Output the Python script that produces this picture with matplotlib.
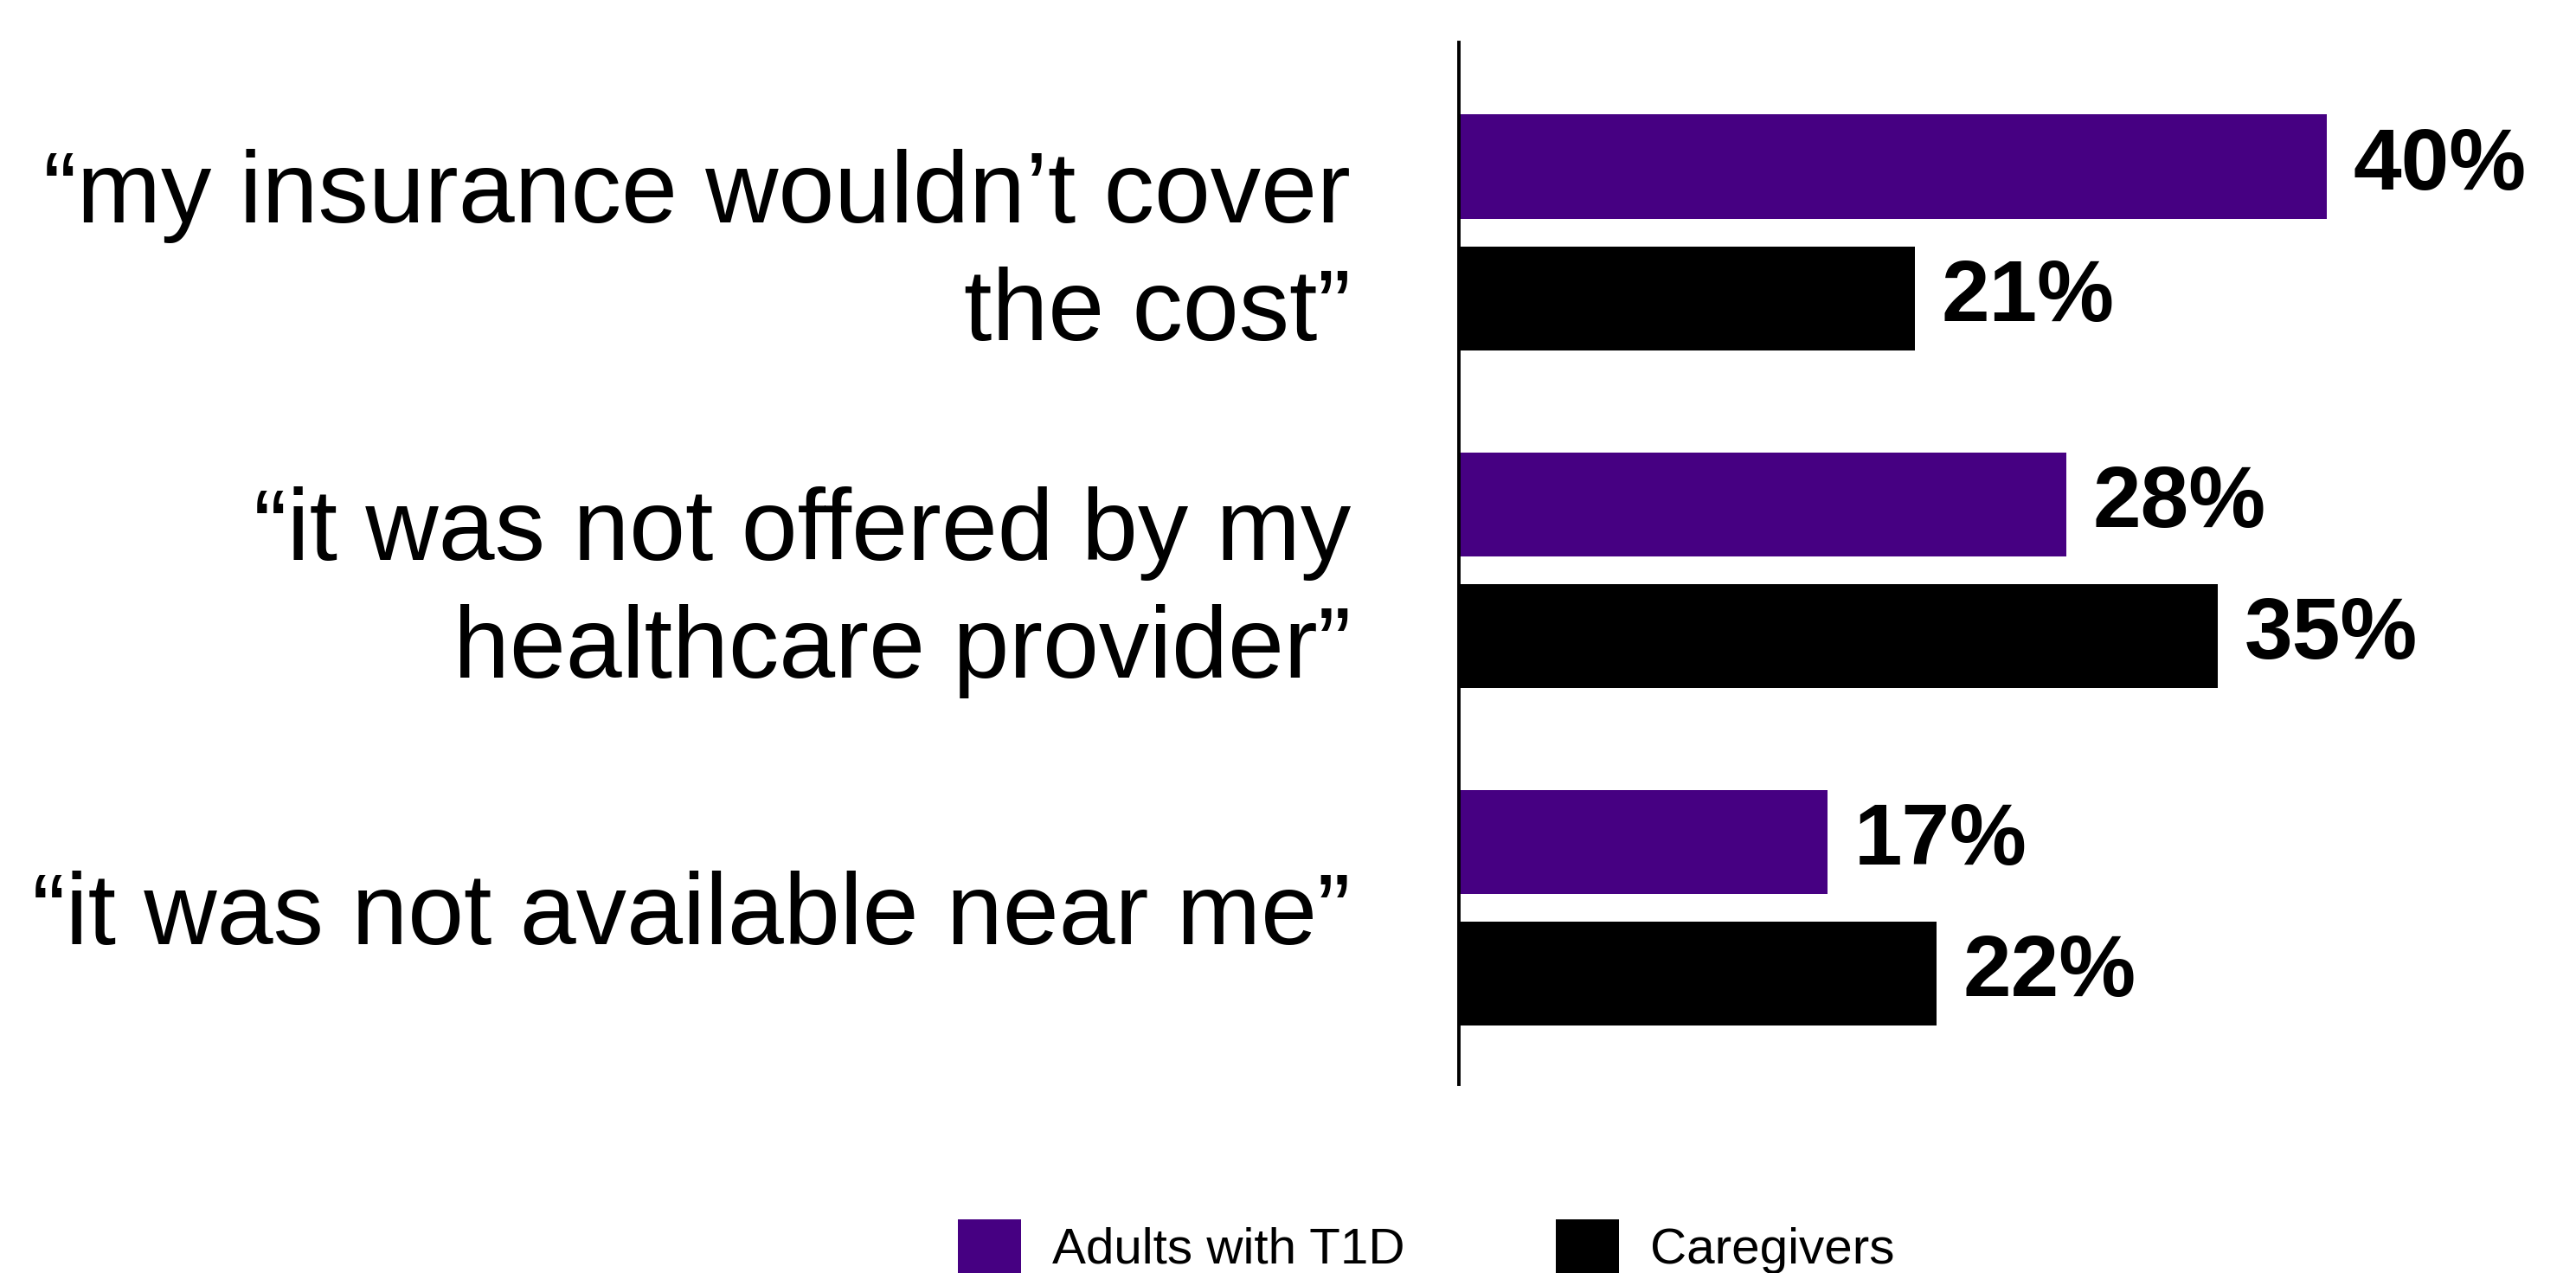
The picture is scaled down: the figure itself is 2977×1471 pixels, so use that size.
"""Reasons for not using a service: adults with T1D vs caregivers (horizontal grouped bars)."""

import matplotlib

matplotlib.use("Agg")
import matplotlib.pyplot as plt
import numpy as np

# --- data -------------------------------------------------------------------
categories = [
    "\u201cmy insurance wouldn\u2019t cover\nthe cost\u201d",
    "\u201cit was not offered by my\nhealthcare provider\u201d",
    "\u201cit was not available near me\u201d",
]
adults = [40, 28, 17]
caregivers = [21, 35, 22]
series_names = ["Adults with T1D", "Caregivers"]

_C_ADULT = "#460082"
_C_CARE = "#000000"
_FONT = "Liberation Sans"


def main() -> None:
    fig = plt.figure(figsize=(29.77, 14.71), dpi=100)
    ax = fig.add_axes([0.5664, 0.1482, 0.4336, 0.8185])

    y = np.arange(len(categories))
    h, off = 0.308, 0.195
    b1 = ax.barh(y - off, adults, height=h, color=_C_ADULT, label=series_names[0])
    b2 = ax.barh(y + off, caregivers, height=h, color=_C_CARE, label=series_names[1])

    for bars, vals in ((b1, adults), (b2, caregivers)):
        for r, v in zip(bars, vals):
            ax.annotate(f"{v}%", (r.get_width(), r.get_y() + r.get_height() / 2),
                        textcoords="offset points", xytext=(22, 0),
                        ha="left", va="center", fontsize=72, fontweight="bold",
                        family=_FONT, color="black")

    ax.set_xlim(0, 51.5)
    ax.set_ylim(len(categories) - 1 + 0.523, -0.563)
    ax.set_xticks([])
    ax.set_yticks(y)
    ax.set_yticklabels(categories, fontsize=84, family=_FONT, ha="right",
                       linespacing=1.32)
    ax.tick_params(axis="y", length=0, pad=90)
    for s in ("top", "right", "bottom"):
        ax.spines[s].set_visible(False)
    ax.spines["left"].set_linewidth(2.8)

    fig.legend(handles=[b1, b2], labels=series_names, loc="upper left",
               bbox_to_anchor=(0.372, 0.042), ncol=2, frameon=False,
               prop={"family": _FONT, "size": 42},
               handlelength=1.24, handleheight=1.24, handletextpad=0.62,
               columnspacing=3.0, borderpad=0, borderaxespad=0)

    fig.savefig("out.png", dpi=100)


if __name__ == "__main__":
    main()
